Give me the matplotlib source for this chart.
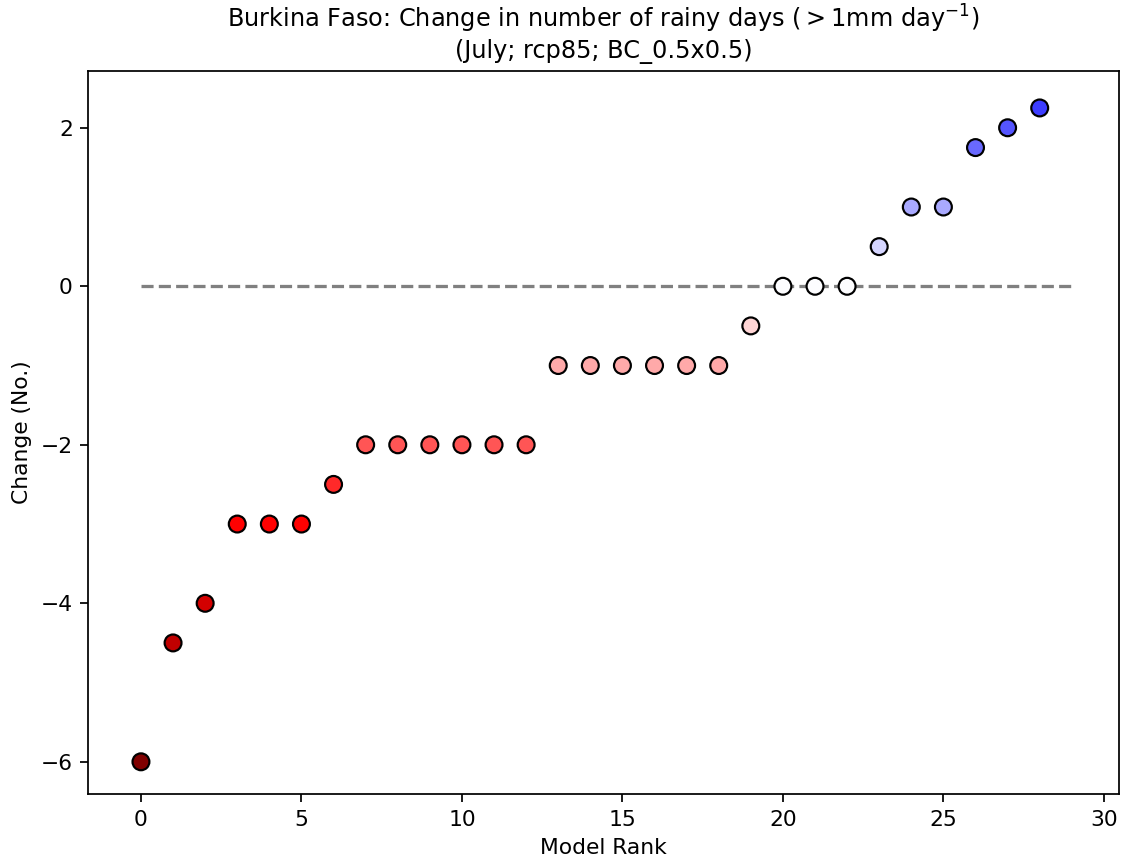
import matplotlib
matplotlib.use("Agg")
import matplotlib.pyplot as plt
import numpy as np

# Data
model_rank = list(range(29))
change = [-6, -4.5, -4, -3, -3, -3, -2.5, -2, -2, -2, -2, -2, -2,
          -1, -1, -1, -1, -1, -1, -0.5, 0, 0, 0, 0.5, 1, 1, 1.75, 2, 2.25]
title = "Burkina Faso: Change in number of rainy days ($>$1mm day$^{-1}$)\n(July; rcp85; BC_0.5x0.5)"

k = 1.12
plt.rcParams.update({
    'font.size': 10 * k,
    'axes.linewidth': 0.8 * k,
    'xtick.major.size': 3.5 * k,
    'ytick.major.size': 3.5 * k,
    'xtick.major.width': 0.8 * k,
    'ytick.major.width': 0.8 * k,
    'xtick.major.pad': 3.5 * k,
    'ytick.major.pad': 3.5 * k,
    'axes.labelpad': 4.0 * k,
    'axes.titlepad': 6.0 * k,
})

fig = plt.figure(figsize=(1121 / 140, 863 / 140), dpi=140)
bottom = 1 - 794.3 / 863
top = 1 - 70.7 / 863
ax = fig.add_axes([0.0785, bottom, 0.9982 - 0.0785, top - bottom])

ax.plot([0, len(model_rank)], [0, 0], ls='--', color='grey', lw=1.5 * k, zorder=1)
ax.scatter(model_rank, change, c=change, cmap='seismic_r', vmin=-6, vmax=6,
           s=60 * k * k, edgecolors='k', linewidths=1.0 * k, zorder=3)

ax.set_xlim(-1.65, 30.47)
ax.set_ylim(-6.41, 2.72)
ax.set_xticks([0, 5, 10, 15, 20, 25, 30])
ax.set_yticks([-6, -4, -2, 0, 2])
ax.set_xlabel("Model Rank")
ax.set_ylabel("Change (No.)")
ax.set_title(title, fontsize=11 * k)

fig.savefig("out.png", dpi=140)
